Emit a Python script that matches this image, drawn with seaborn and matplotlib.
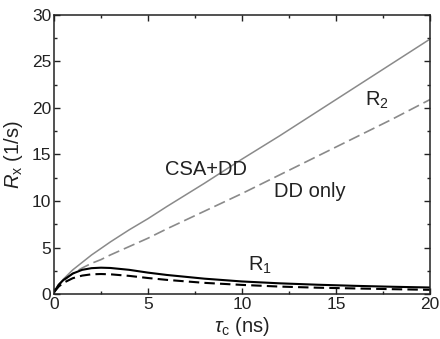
import matplotlib
matplotlib.use("Agg")
import matplotlib.pyplot as plt
import seaborn as sns
import pandas as pd
from matplotlib.ticker import MultipleLocator

# Data
tau = [0, 0.25, 0.5, 1, 1.5, 2, 2.5, 3, 4, 5, 6, 8, 10, 12, 14, 16, 18, 20]
r2_csa_dd = [0.2, 1.0, 1.6, 2.6, 3.4, 4.2, 4.9, 5.6, 6.9, 8.1, 9.4, 11.9, 14.5, 17.0, 19.6, 22.2, 24.8, 27.4]
r2_dd = [0.2, 0.9, 1.4, 2.2, 2.8, 3.3, 3.7, 4.2, 5.1, 6.0, 7.0, 8.9, 10.8, 12.8, 14.8, 16.8, 18.8, 20.9]
r1_csa_dd = [0.2, 1.0, 1.5, 2.2, 2.6, 2.78, 2.83, 2.8, 2.6, 2.3, 2.05, 1.65, 1.35, 1.15, 1.0, 0.88, 0.78, 0.7]
r1_dd = [0.2, 0.8, 1.2, 1.7, 1.98, 2.12, 2.15, 2.12, 1.95, 1.72, 1.52, 1.2, 0.98, 0.8, 0.68, 0.6, 0.52, 0.45]

sns.set_style("ticks")
plt.rcParams['font.family'] = ['Liberation Sans', 'DejaVu Sans']
plt.rcParams['mathtext.fontset'] = 'custom'
plt.rcParams['mathtext.rm'] = 'Liberation Sans'
plt.rcParams['mathtext.it'] = 'Liberation Sans:italic'

fig, ax = plt.subplots(figsize=(4.4, 3.39), dpi=100)
fig.subplots_adjust(left=0.1227, right=0.977, top=0.9558, bottom=0.1327)

df = pd.DataFrame({"tau": tau, "r2c": r2_csa_dd, "r2d": r2_dd, "r1c": r1_csa_dd, "r1d": r1_dd})

gray = "#8a8a8a"
sns.lineplot(data=df, x="tau", y="r2c", ax=ax, color=gray, lw=1.1)
sns.lineplot(data=df, x="tau", y="r2d", ax=ax, color=gray, lw=1.2)
ax.lines[-1].set_dashes((7, 3))
sns.lineplot(data=df, x="tau", y="r1c", ax=ax, color="black", lw=1.5)
sns.lineplot(data=df, x="tau", y="r1d", ax=ax, color="black", lw=1.5)
ax.lines[-1].set_dashes((5, 2.5))

ax.set_xlim(0, 20)
ax.set_ylim(0, 30)
ax.xaxis.set_major_locator(MultipleLocator(5))
ax.xaxis.set_minor_locator(MultipleLocator(2.5))
ax.yaxis.set_major_locator(MultipleLocator(5))
ax.yaxis.set_minor_locator(MultipleLocator(2.5))
ax.tick_params(which="both", direction="in", top=True, right=True, width=1.0, colors="#222222",
               labelcolor="#222222")
ax.tick_params(which="major", length=4.5, labelsize=12.5, pad=2)
ax.tick_params(which="minor", length=2.5)
for s in ax.spines.values():
    s.set_linewidth(1.1)
    s.set_color("#222222")

ax.set_xlabel(r"$\tau_{\rm c}$ (ns)", fontsize=14.5, labelpad=2, color="#222222")
ax.set_ylabel(r"$R_{\rm x}$ (1/s)", fontsize=14.5, labelpad=5, color="#222222")

txt_kw = dict(fontsize=14.5, ha="center", va="center", color="#222222")
ax.text(8.1, 13.4, "CSA+DD", **txt_kw)
ax.text(13.6, 11.0, "DD only", **txt_kw)
ax.text(17.2, 20.8, r"R$_2$", **txt_kw)
ax.text(10.95, 3.1, r"R$_1$", **txt_kw)

fig.savefig("out.png", dpi=100)
